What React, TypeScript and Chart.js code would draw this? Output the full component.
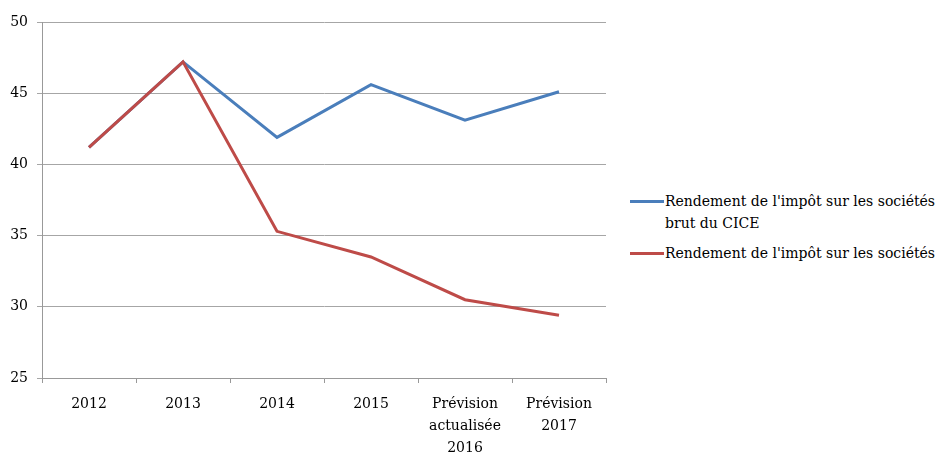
import React, { useEffect, useRef } from "react";
import { Chart, registerables } from "chart.js";

Chart.register(...registerables);

const categories: (string | string[])[] = [
  "2012",
  "2013",
  "2014",
  "2015",
  ["Prévision", "actualisée", "2016"],
  ["Prévision", "2017"],
];
const seriesBrut = [41.2, 47.2, 41.9, 45.6, 43.1, 45.1];
const seriesNet = [41.2, 47.2, 35.3, 33.5, 30.5, 29.4];
const seriesNames = [
  ["Rendement de l'impôt sur les sociétés", "brut du CICE"],
  ["Rendement de l'impôt sur les sociétés"],
];
const colors = ["#4A7EBB", "#BE4B48"];
const yMin = 25;
const yMax = 50;
const yStep = 5;

const FONT = "'DejaVu Serif', serif";

export default function App() {
  const ref = useRef<HTMLCanvasElement | null>(null);

  useEffect(() => {
    document.body.style.margin = "0";
    if (!ref.current) return;
    const chart = new Chart(ref.current, {
      type: "line",
      data: {
        labels: categories,
        datasets: [
          {
            label: seriesNames[0].join(" "),
            data: seriesBrut,
            borderColor: colors[0],
            backgroundColor: colors[0],
            borderWidth: 3,
            pointRadius: 0,
            tension: 0,
            order: 1,
          },
          {
            label: seriesNames[1].join(" "),
            data: seriesNet,
            borderColor: colors[1],
            backgroundColor: colors[1],
            borderWidth: 3,
            pointRadius: 0,
            tension: 0,
            order: 0,
          },
        ],
      },
      options: {
        animation: false,
        responsive: false,
        maintainAspectRatio: false,
        layout: { padding: { top: 22, right: 14, left: 0, bottom: 0 } },
        plugins: { legend: { display: false }, tooltip: { enabled: false } },
        scales: {
          x: {
            offset: true,
            grid: {
              offset: true,
              drawOnChartArea: false,
              drawTicks: true,
              tickLength: 5,
              color: "#999999",
            },
            border: { color: "#999999", width: 1 },
            ticks: {
              color: "#000000",
              font: { family: FONT, size: 14, lineHeight: 1.55 },
              padding: 11,
              maxRotation: 0,
              autoSkip: false,
            },
            afterFit: (scale: any) => {
              scale.height = 75;
            },
          },
          y: {
            min: yMin,
            max: yMax,
            grid: {
              color: "#a6a6a6",
              drawTicks: true,
              tickLength: 5,
            },
            border: { color: "#999999", width: 1 },
            ticks: {
              stepSize: yStep,
              color: "#000000",
              font: { family: FONT, size: 14 },
              padding: 9,
            },
            afterFit: (scale: any) => {
              scale.width = 42;
            },
          },
        },
      },
    });
    return () => chart.destroy();
  }, []);

  return (
    <div style={{ position: "relative", width: 938, height: 453, background: "#fff" }}>
      <canvas ref={ref} width={620} height={453} style={{ position: "absolute", left: 0, top: 0 }} />
      {seriesNames.map((lines, i) => (
        <div
          key={i}
          style={{
            position: "absolute",
            left: 630,
            top: i === 0 ? 190 : 242,
            display: "flex",
            alignItems: "flex-start",
            fontFamily: FONT,
            fontSize: 14,
            lineHeight: "22px",
            color: "#000",
          }}
        >
          <div style={{ width: 34, height: 3, background: colors[i], marginTop: 10, marginRight: 1 }} />
          <div>
            {lines.map((l, j) => (
              <div key={j} style={{ whiteSpace: "nowrap" }}>{l}</div>
            ))}
          </div>
        </div>
      ))}
    </div>
  );
}
